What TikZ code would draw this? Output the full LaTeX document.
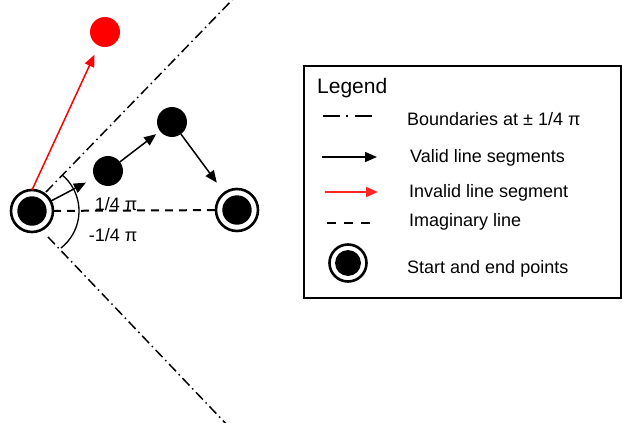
\documentclass[tikz,border=0pt]{standalone}
\usepackage{fontspec}
\setmainfont{Liberation Sans}
\usetikzlibrary{arrows.meta}

\tikzset{
  txt/.style={font=\fontsize{18}{20}\selectfont, inner sep=0pt, anchor=base west},
  angtxt/.style={font=\fontsize{18}{20}\selectfont, inner sep=0pt, anchor=base},
  endpt/.style={circle, draw=black, line width=2.6pt, minimum size=#1, inner sep=0pt, outer sep=0pt,
    path picture={\fill[black] (path picture bounding box.center) circle (0.35*#1);}},
  endpt/.default=42,
  dot/.style={circle, fill=#1, minimum size=30, inner sep=0pt, outer sep=0pt},
  dot/.default=black,
  tip/.style={-{Triangle[length=12pt,width=10pt]}},
  valid/.style={tip, line width=1.5pt, black},
  invalid/.style={tip, line width=1.5pt, red},
  bound/.style={line width=1.5pt, dash pattern=on 10pt off 4pt on 1.5pt off 4pt},
  imag/.style={line width=2pt, dash pattern=on 8pt off 6pt},
}

\begin{document}
\begin{tikzpicture}[x=1pt, y=-1pt]
  \useasboundingbox (0,0) rectangle (622,423);

  % boundary lines at +/- pi/4
  \coordinate (bu0) at (46,192);
  \coordinate (bu1) at (237,-5);
  \coordinate (bl0) at (48,237);
  \coordinate (bl1) at (230,428);
  \draw[bound] (bu0) -- (bu1);
  \draw[bound] (bl0) -- (bl1);

  % points
  \node[endpt] (s) at (32,211) {};
  \node[endpt] (e) at (237,210) {};
  \node[dot] (p1) at (108,171) {};
  \node[dot] (p2) at (172,122) {};
  \node[dot=red] (r) at (105,32) {};

  % imaginary line between start and end
  \draw[imag] (s) -- (e);

  % angle arcs
  \draw[line width=1.3pt] (s.center) ++(-50:47) arc[start angle=-50, end angle=52, radius=47];

  \node[angtxt] (lup) at (116,210) {1/4 π};
  \node[angtxt] (llo) at (113,241) {-1/4 π};

  % segments
  \draw[invalid, shorten >=10pt] (s.north) -- (r);
  \draw[valid, shorten >=10pt] (s) -- (p1);
  \draw[valid, shorten >=5pt] (p1) -- (p2);
  \draw[valid, shorten >=13pt] (p2) -- (e);

  % legend
  \node[draw=black, line width=1.6pt, minimum width=317, minimum height=232, inner sep=0pt,
        anchor=north west] (legend) at (303,65) {};
  \node[txt, font=\fontsize{21}{24}\selectfont] (lt) at (317,93) {Legend};

  \coordinate (a0) at (323,116);
  \coordinate (a1) at (372,116);
  \draw[line width=1.4pt, dash pattern=on 17pt off 6pt on 1.5pt off 7pt] (a0) -- (a1);
  \node[txt] (t1) at (407,125) {Boundaries at ± 1/4 π};

  \coordinate (b0) at (322,157);
  \coordinate (b1) at (377,157);
  \draw[valid] (b0) -- (b1);
  \node[txt] (t2) at (410,162) {Valid line segments};

  \coordinate (c0) at (325,192);
  \coordinate (c1) at (378,192);
  \draw[invalid, line width=2pt, red!85] (c0) -- (c1);
  \node[txt] (t3) at (409,197) {Invalid line segment};

  \coordinate (d0) at (327,223);
  \coordinate (d1) at (371,223);
  \draw[imag, dash pattern=on 9pt off 8pt] (d0) -- (d1);
  \node[txt] (t4) at (409,226) {Imaginary line};

  \node[endpt=37] (ls) at (348,263) {};
  \node[txt] (t5) at (407,273) {Start and end points};
\end{tikzpicture}
\end{document}
